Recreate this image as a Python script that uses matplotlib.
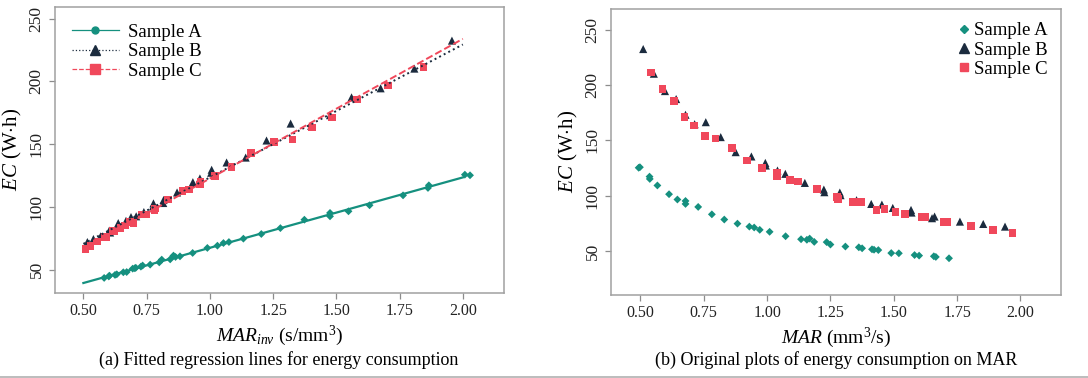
import numpy as np
import matplotlib
matplotlib.use("Agg")
import matplotlib.pyplot as plt
from matplotlib.lines import Line2D

plt.rcParams["font.family"] = ["Liberation Serif", "DejaVu Serif"]
plt.rcParams["mathtext.fontset"] = "custom"
plt.rcParams["mathtext.rm"] = "Liberation Serif"
plt.rcParams["mathtext.it"] = "Liberation Serif:italic"

# material removal rate (mm3/s) and energy consumption (W.h)
a_mar = [0.498, 0.493, 0.536, 0.537, 0.567, 0.613, 0.646, 0.678, 0.678, 0.728,
         0.782, 0.831, 0.883, 0.930, 0.949, 0.971, 1.010, 1.073, 1.134, 1.157,
         1.168, 1.186, 1.235, 1.250, 1.309, 1.362, 1.375, 1.414, 1.422, 1.439,
         1.490, 1.520, 1.582, 1.600, 1.658, 1.666, 1.718]
a_ec = [125.7, 125.2, 117.2, 115.1, 109.2, 101.3, 96.5, 95.2, 92.5, 89.8,
        83.1, 78.4, 74.7, 72.0, 71.2, 69.1, 67.3, 63.3, 60.6, 60.1,
        61.2, 58.2, 58.0, 55.8, 54.0, 53.3, 52.4, 51.5, 51.1, 50.8,
        48.1, 47.9, 46.3, 45.8, 45.2, 44.6, 43.4]

b_mar = [0.511, 0.553, 0.597, 0.641, 0.678, 0.714, 0.758, 0.817, 0.876, 0.938,
         0.993, 0.995, 1.041, 1.072, 1.149, 1.224, 1.226, 1.287, 1.290, 1.353,
         1.411, 1.453, 1.496, 1.568, 1.570, 1.651, 1.661, 1.761, 1.853, 1.939]
b_ec = [232.5, 210.2, 194.5, 187.3, 173.1, 164.6, 166.4, 152.9, 139.3, 135.4,
        129.6, 127.2, 122.7, 119.7, 111.5, 105.5, 103.1, 102.8, 100.4, 95.9,
        92.5, 91.9, 88.9, 87.1, 84.7, 79.6, 81.1, 76.5, 74.4, 72.0]

c_mar = [0.542, 0.587, 0.632, 0.674, 0.712, 0.754, 0.797, 0.861, 0.921, 0.979,
         1.038, 1.040, 1.091, 1.121, 1.197, 1.276, 1.279, 1.338, 1.371, 1.432,
         1.463, 1.507, 1.545, 1.612, 1.622, 1.696, 1.709, 1.805, 1.891, 1.968]
c_ec = [211.4, 196.6, 185.7, 171.3, 163.4, 153.8, 151.7, 142.9, 131.8, 124.8,
        120.3, 117.9, 114.0, 112.8, 105.8, 98.6, 97.1, 94.0, 94.0, 87.1,
        88.0, 85.3, 83.2, 80.8, 80.8, 76.2, 76.2, 72.3, 69.0, 66.3]

# regression lines EC = slope * MARinv + intercept, as drawn in panel (a)
fit_slope = [56.1, 105.9, 111.3]
fit_intercept = [11.3, 17.6, 11.3]
fit_range = [0.5, 2.0]

names = ["Sample A", "Sample B", "Sample C"]
colors = ["#15907f", "#1b2b3e", "#f0485b"]
markers = ["D", "^", "s"]
msizes = [16, 34, 30]
styles = ["-", ":", "--"]
series = [(a_mar, a_ec), (b_mar, b_ec), (c_mar, c_ec)]

fig = plt.figure(figsize=(10.88, 3.78), dpi=100)
ax1 = fig.add_axes([0.0506, 0.2249, 0.4127, 0.7566])
ax2 = fig.add_axes([0.5616, 0.2196, 0.4136, 0.7566])

xfit = np.array(fit_range)
handles = []
for i, ((mar, ec), name, col, mk, ms, ls) in enumerate(zip(series, names, colors, markers, msizes, styles)):
    inv = 1.0 / np.array(mar)
    lw = 1.6 if ls == "-" else 1.4
    ax1.plot(xfit, fit_slope[i] * xfit + fit_intercept[i], ls=ls, color=col, lw=lw, zorder=3)
    ax1.scatter(inv, ec, s=ms, marker=mk, color=col, edgecolors="none", zorder=2)
    ax2.scatter(mar, ec, s=ms, marker=mk, color=col, edgecolors="none", zorder=2)
    handles.append(Line2D([0], [0], ls=ls, color=col, lw=0.9, marker="o" if mk == "D" else mk,
                          markersize=5 if mk == "D" else 7))

for ax in (ax1, ax2):
    ax.set_xticks([0.5, 0.75, 1.0, 1.25, 1.5, 1.75, 2.0])
    ax.set_xticklabels(["0.50", "0.75", "1.00", "1.25", "1.50", "1.75", "2.00"])
    ax.set_yticks([50, 100, 150, 200, 250])
    ax.tick_params(axis="x", labelsize=11.5)
    ax.tick_params(axis="y", labelsize=12.5)
    for lab in ax.get_yticklabels():
        lab.set_rotation(90)
        lab.set_va("center")
    ax.tick_params(color="#8c8c8c", length=4, width=0.9, labelcolor="#222222")
    for sp in ax.spines.values():
        sp.set_color("#a0a0a0")
        sp.set_linewidth(1.1)
    ax.set_ylabel(r"$EC$ (W$\cdot$h)", fontsize=15, labelpad=3)

ax1.set_xlim(0.388, 2.163)
ax1.set_ylim(31.4, 259.3)
ax2.set_xlim(0.384, 2.16)
ax2.set_ylim(10.2, 268.7)

ax1.set_xlabel(r"$MAR_{inv}$ (s/mm$^3$)", fontsize=14, labelpad=3)
ax2.set_xlabel(r"$MAR$ (mm$^3$/s)", fontsize=14, labelpad=3)

ax1.legend(handles, names, loc="upper left", frameon=False, fontsize=13.5,
           handlelength=2.5, handletextpad=0.5, borderaxespad=0.5, labelspacing=0.12,
           bbox_to_anchor=(0.0, 1.0))
lg_handles = [Line2D([0], [0], ls="none", color=c, marker=m, markersize=s)
              for c, m, s in zip(colors, markers, [4, 6.5, 6])]
ax2.legend(lg_handles, names, loc="upper right", frameon=False, fontsize=13.5,
           handlelength=0.6, handletextpad=0.25, borderaxespad=0.3, labelspacing=0.12,
           bbox_to_anchor=(1.0, 1.0))

fig.text(0.256, 0.0476, "(a) Fitted regression lines for energy consumption", ha="center", va="center", fontsize=13)
fig.text(0.769, 0.0476, "(b) Original plots of energy consumption on MAR", ha="center", va="center", fontsize=13)
fig.add_artist(Line2D([0, 1], [0.003, 0.003], color="#b0b0b0", lw=1.2, transform=fig.transFigure))

fig.savefig("out.png", dpi=100)
